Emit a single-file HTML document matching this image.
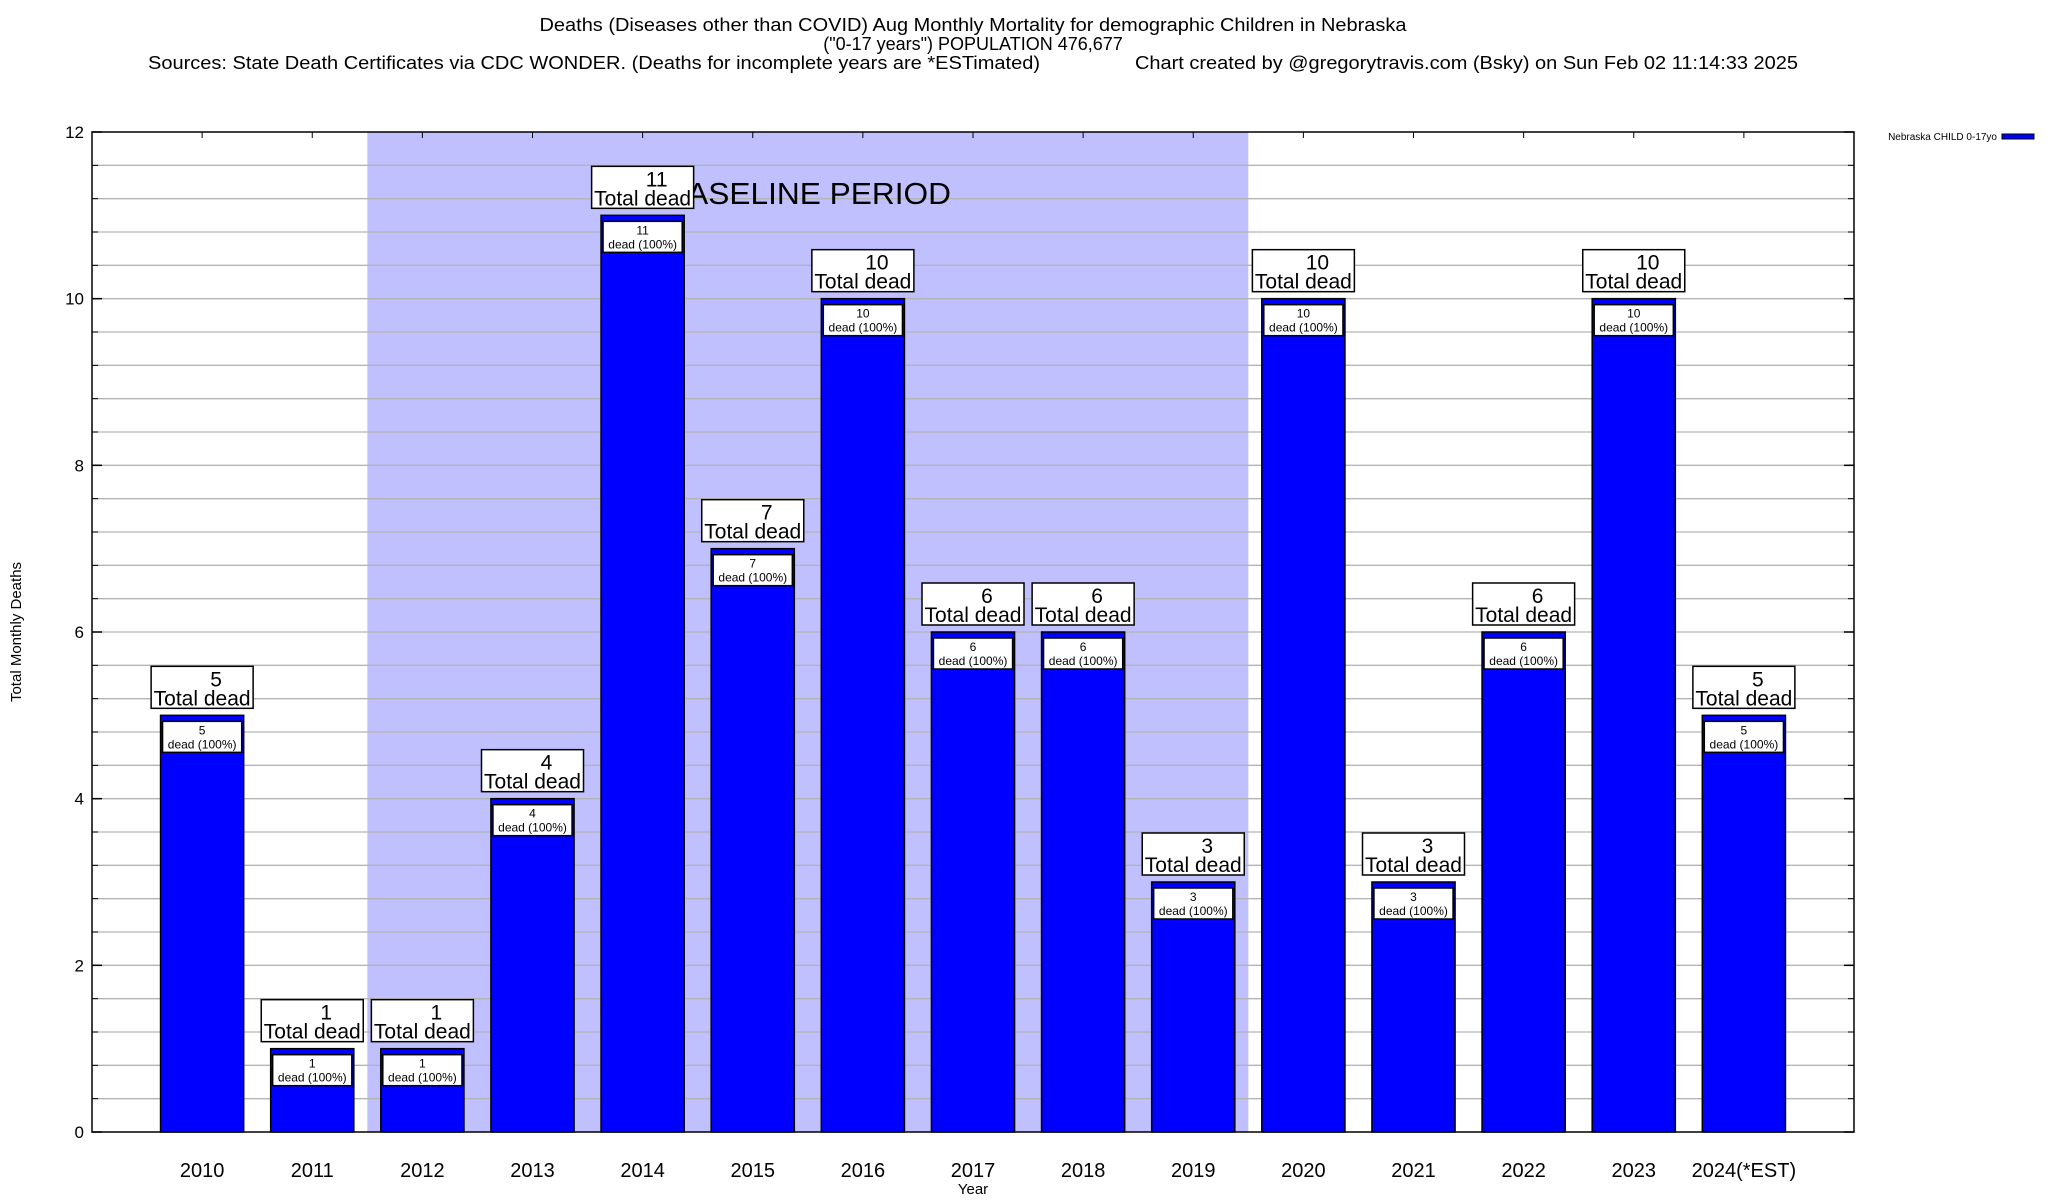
<!DOCTYPE html>
<html><head><meta charset="utf-8"><style>
html,body{margin:0;padding:0;background:#fff}
svg{display:block;font-family:"Liberation Sans",Arial,sans-serif}
</style></head><body>
<svg id="chart" width="2048" height="1200" viewBox="0 0 2048 1200" xmlns="http://www.w3.org/2000/svg">
<text x="973" y="31" font-size="18" text-anchor="middle" textLength="867" lengthAdjust="spacingAndGlyphs">Deaths (Diseases other than COVID) Aug Monthly Mortality for demographic Children in Nebraska</text>
<text x="973" y="50" font-size="18" text-anchor="middle">("0-17 years") POPULATION 476,677</text>
<text x="148" y="69" font-size="18" textLength="892" lengthAdjust="spacingAndGlyphs">Sources: State Death Certificates via CDC WONDER. (Deaths for incomplete years are *ESTimated)</text>
<text x="1135" y="69" font-size="18" textLength="663" lengthAdjust="spacingAndGlyphs">Chart created by @gregorytravis.com (Bsky) on Sun Feb 02 11:14:33 2025</text>
<g id="plot"></g>
<text transform="translate(21,632) rotate(-90)" font-size="15" text-anchor="middle">Total Monthly Deaths</text>
<text x="973" y="1194" font-size="15" text-anchor="middle">Year</text>
<g>
<text x="1997" y="140" font-size="10" text-anchor="end">Nebraska CHILD 0-17yo</text>
<rect x="2002" y="134" width="32" height="5" fill="#0000ff" stroke="#000" stroke-width="1"/>
</g>
</svg>
<script>
const categories = ["2010","2011","2012","2013","2014","2015","2016","2017","2018","2019","2020","2021","2022","2023","2024(*EST)"];
const deaths = [5,1,1,4,11,7,10,6,6,3,10,3,6,10,5];
const yTicks = [0,2,4,6,8,10,12];
const baselineStart = 2012, baselineEnd = 2019;

const NS = "http://www.w3.org/2000/svg";
const L = 92, R = 1854, T = 132, B = 1132;
const step = (R - L) / (categories.length + 1);
const xs = i => L + step * (i + 1);
const ys = v => B - (v / 12) * (B - T);
const g = document.getElementById('plot');
function mk(tag, attrs, parent) {
  const e = document.createElementNS(NS, tag);
  for (const k in attrs) e.setAttribute(k, attrs[k]);
  (parent || g).appendChild(e);
  return e;
}
// baseline shading
const bi0 = baselineStart - 2010, bi1 = baselineEnd - 2010;
const shade = mk('rect', {x: xs(bi0) - step/2, y: T, width: (bi1 - bi0 + 1) * step, height: B - T, fill: '#c0c0ff'});


// grid
for (let v = 0.4; v < 12; v += 0.4) {
  const y = ys(v);
  const ln = mk('line', {x1: L, x2: R, y1: y, y2: y, stroke: '#b4b4b4', 'stroke-width': 1.3});
  
  
  mk('line', {x1: L, x2: L + 6, y1: y, y2: y, stroke: '#000', 'stroke-width': 1});
  mk('line', {x1: R - 6, x2: R, y1: y, y2: y, stroke: '#000', 'stroke-width': 1});
}
// baseline text
const bt = mk('text', {x: 666, y: 204, 'font-size': 31, textLength: 285, lengthAdjust: 'spacingAndGlyphs'});
bt.textContent = 'BASELINE PERIOD';


// y ticks
yTicks.forEach(v => {
  const t = mk('text', {x: 84, y: ys(v) + 6, 'font-size': 17, 'text-anchor': 'end'});
  t.textContent = v;
  
  
  mk('line', {x1: L, x2: L + 10, y1: ys(v), y2: ys(v), stroke: '#000', 'stroke-width': 1.5});
  mk('line', {x1: R - 10, x2: R, y1: ys(v), y2: ys(v), stroke: '#000', 'stroke-width': 1.5});
});
// bars
const bw = step * 0.755;
categories.forEach((c, i) => {
  const cx = xs(i), v = deaths[i], top = ys(v);
  mk('line', {x1: cx, x2: cx, y1: T, y2: T + 6, stroke: '#000'});
  const bar = mk('rect', {x: cx - bw/2, y: top, width: bw, height: B - top, fill: '#0000ff', stroke: '#000', 'stroke-width': 1.5});
  
  
  const ib = mk('rect', {x: cx - bw/2 + 2, y: top + 6, width: bw - 4, height: 31, fill: '#fff', stroke: '#000', 'stroke-width': 1.5});
  
  
  const t1 = mk('text', {x: cx, y: top + 19, 'font-size': 12, 'text-anchor': 'middle'});
  t1.textContent = v;
  
  
  const t2 = mk('text', {x: cx, y: top + 33, 'font-size': 12, 'text-anchor': 'middle'});
  t2.textContent = 'dead (100%)';
  
  
  const ob = mk('rect', {x: cx - 51, y: top - 49, width: 102, height: 42, fill: '#fff', stroke: '#000', 'stroke-width': 1.5});
  
  
  const t3 = mk('text', {x: cx + 14, y: top - 29, 'font-size': 21, 'text-anchor': 'middle'});
  t3.textContent = v;
  
  
  const t4 = mk('text', {x: cx, y: top - 10, 'font-size': 21, 'text-anchor': 'middle'});
  t4.textContent = 'Total dead';
  
  
  const xl = mk('text', {x: cx, y: 1177, 'font-size': 20, 'text-anchor': 'middle'});
  xl.textContent = c;
  
  
});
const frame = mk('rect', {x: L, y: T, width: R - L, height: B - T, fill: 'none', stroke: '#000', 'stroke-width': 1.5});


</script>
</body></html>
